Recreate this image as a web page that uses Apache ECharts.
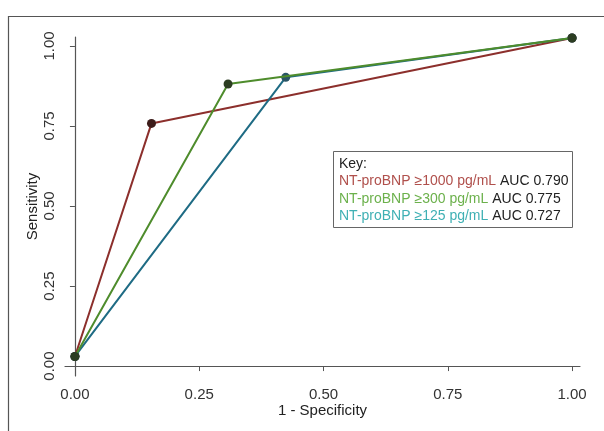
<!DOCTYPE html>
<html>
<head>
<meta charset="utf-8">
<script src="https://cdn.jsdelivr.net/npm/echarts@6/dist/echarts.min.js"></script>
<style>
html,body{margin:0;padding:0;background:#fff;}
#chart{width:604px;height:431px;}
</style>
</head>
<body>
<div id="chart"></div>
<script>
const seriesNames = ['NT-proBNP \u22651000 pg/mL', 'NT-proBNP \u2265300 pg/mL', 'NT-proBNP \u2265125 pg/mL'];
const aucLabels = ['AUC 0.790', 'AUC 0.775', 'AUC 0.727'];
const redPoints = [[0, 0.03], [0.154, 0.758], [1, 1.025]];
const greenPoints = [[0, 0.03], [0.308, 0.881], [1, 1.025]];
const bluePoints = [[0, 0.03], [0.424, 0.902], [1, 1.025]];
const tickValues = [0, 0.25, 0.5, 0.75, 1];
const tickLabels = ['0.00', '0.25', '0.50', '0.75', '1.00'];

const lineColors = ['#8c2f2c', '#4e8c2c', '#1e6b84'];
const markerColors = ['#3d1c1a', '#2c3d22', '#2a5566'];
const keyColors = ['#b0504c', '#6cb14c', '#3fb0b4'];
const FONT = 'Liberation Sans, Arial, sans-serif';

const chart = echarts.init(document.getElementById('chart'), null, {renderer: 'canvas'});

function fmt(v) {
  const i = tickValues.indexOf(v);
  return i >= 0 ? tickLabels[i] : '';
}

function mkSeries(name, data, idx, z) {
  return {
    name: name,
    type: 'line',
    data: data,
    symbol: 'circle',
    symbolSize: 9,
    lineStyle: {color: lineColors[idx], width: 2},
    itemStyle: {color: markerColors[idx]},
    emphasis: {disabled: true},
    animation: false,
    z: z
  };
}

const option = {
  animation: false,
  backgroundColor: '#ffffff',
  textStyle: {fontFamily: FONT},
  grid: {left: 65, right: 24, top: 37, bottom: 55},
  xAxis: {
    type: 'value',
    min: -0.02,
    max: 1.016,
    name: '1 - Specificity',
    nameLocation: 'middle',
    nameGap: 27,
    nameMoveOverlap: false,
    nameTextStyle: {fontSize: 15, color: '#222', fontFamily: FONT},
    axisLine: {show: true, lineStyle: {color: '#555', width: 1.2}},
    axisTick: {show: true, length: 5, lineStyle: {color: '#555'}, customValues: tickValues},
    axisLabel: {fontSize: 15, color: '#333', margin: 11, fontFamily: FONT, customValues: tickValues, formatter: fmt},
    splitLine: {show: false}
  },
  yAxis: {
    type: 'value',
    min: -0.031,
    max: 1.028,
    name: 'Sensitivity',
    nameLocation: 'middle',
    nameGap: 25,
    nameMoveOverlap: false,
    nameRotate: 90,
    nameTextStyle: {fontSize: 15, color: '#222', fontFamily: FONT},
    axisLine: {show: true, lineStyle: {color: '#555', width: 1.2}},
    axisTick: {show: true, length: 5, lineStyle: {color: '#555'}, customValues: tickValues},
    axisLabel: {fontSize: 15, color: '#333', margin: 8, rotate: 90, fontFamily: FONT, customValues: tickValues, formatter: fmt},
    splitLine: {show: false}
  },
  series: [
    mkSeries(seriesNames[0], redPoints, 0, 2),
    mkSeries(seriesNames[2], bluePoints, 2, 3),
    mkSeries(seriesNames[1], greenPoints, 1, 4)
  ],
  graphic: [
    {
      type: 'rect',
      left: 6, top: 14,
      shape: {width: 620, height: 440},
      style: {fill: 'none', stroke: '#555', lineWidth: 1.2},
      silent: true, z: 0
    },
    {
      type: 'rect',
      left: 333, top: 151,
      shape: {width: 239, height: 76},
      style: {fill: '#fff', stroke: '#666', lineWidth: 1},
      silent: true, z: 10
    },
    {
      type: 'text',
      left: 339, top: 155,
      z: 11,
      silent: true,
      style: {
        text: 'Key:\n' +
          '{a|' + seriesNames[0] + '} {k|' + aucLabels[0] + '}\n' +
          '{b|' + seriesNames[1] + '} {k|' + aucLabels[1] + '}\n' +
          '{c|' + seriesNames[2] + '} {k|' + aucLabels[2] + '}',
        font: '14px ' + FONT,
        fill: '#222',
        lineHeight: 17.5,
        rich: {
          a: {fill: keyColors[0], fontSize: 14, fontFamily: FONT, lineHeight: 17.5},
          b: {fill: keyColors[1], fontSize: 14, fontFamily: FONT, lineHeight: 17.5},
          c: {fill: keyColors[2], fontSize: 14, fontFamily: FONT, lineHeight: 17.5},
          k: {fill: '#222', fontSize: 14, fontFamily: FONT, lineHeight: 17.5}
        }
      }
    }
  ]
};
chart.setOption(option);
</script>
</body>
</html>
